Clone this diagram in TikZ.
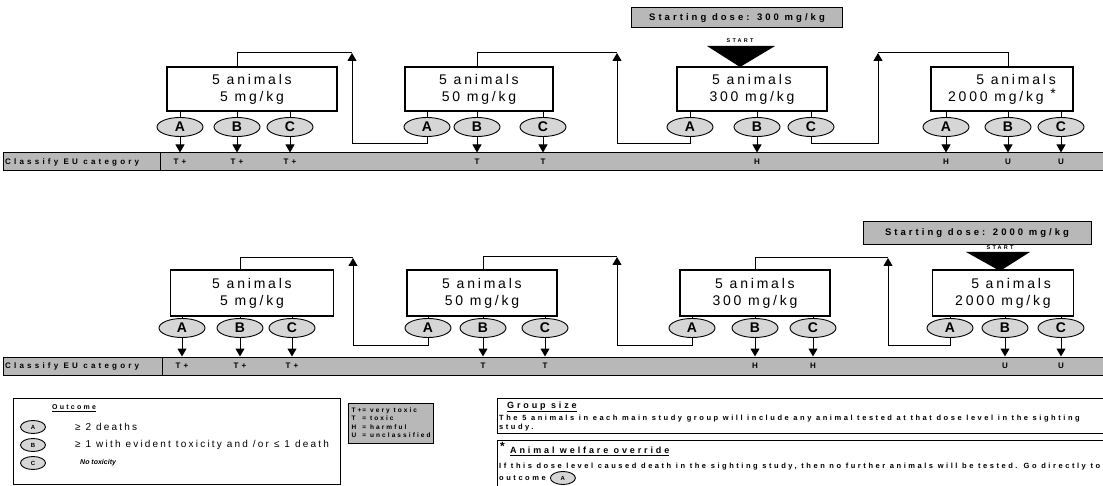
\documentclass[tikz,border=0pt]{standalone}
\usepackage{fontspec}
\setmainfont{Liberation Sans}
\newfontfamily\boxfont[LetterSpace=20]{Liberation Sans}
\newfontfamily\widefont[LetterSpace=32]{Liberation Sans}
\newfontfamily\notefont[LetterSpace=34]{Liberation Sans}
\newfontfamily\barfont[LetterSpace=40]{Liberation Sans}
\newfontfamily\legfont[LetterSpace=22]{Liberation Sans}
\usetikzlibrary{arrows.meta, shapes.geometric, positioning}
\definecolor{dotgray}{gray}{0.72}
\definecolor{litegray}{gray}{0.84}

\begin{document}
\begin{tikzpicture}[x=1pt, y=-1pt,
		>={Triangle[length=8pt,width=9pt]},   % arrow tips
		dosebox/.style={draw, line width=1.2pt, minimum height=44pt, align=center, font=\boxfont\fontsize{14}{17}\selectfont},
		outc/.style={ellipse, draw, line width=0.9pt, fill=litegray, minimum width=46pt, minimum height=19pt, inner sep=0pt, font=\bfseries\fontsize{14}{14}\selectfont},
		outs/.style={outc, minimum width=25pt, minimum height=13pt, font=\bfseries\fontsize{6}{6}\selectfont},
		catbar/.style={draw, line width=1pt, fill=dotgray, minimum height=18pt, inner sep=0pt},
		cat/.style={font=\barfont\bfseries\fontsize{8}{8}\selectfont, inner sep=1pt},
		startbox/.style={draw, line width=1pt, fill=dotgray, inner sep=0pt, font=\widefont\bfseries\fontsize{9.5}{9.5}\selectfont},
		notebox/.style={draw, line width=1pt, anchor=north west, inner sep=0pt},
		note/.style={anchor=west, inner sep=0pt, align=left, font=\notefont\bfseries\fontsize{7.5}{9}\selectfont},
		link/.style={line width=1pt}]
	\useasboundingbox (0,0) rectangle (1103,486);
	% first run: start at 300 mg/kg
	\node[dosebox, minimum width=170pt] (t1) at (252,89) {5 animals\\ 5 mg/kg};
	\node[dosebox, minimum width=148pt] (t2) at (479,89) {5 animals\\50 mg/kg};
	\node[dosebox, minimum width=150pt] (t3) at (752,89) {5 animals\\300 mg/kg};
	\node[dosebox, minimum width=142pt, align=right] (t4) at (1002,89) {5 animals\\2000 mg/kg \raisebox{3pt}{*}};
	\foreach \i/\xa/\xb/\xc in {1/180/237/290, 2/427/477/543, 3/690/757/811, 4/946/1008/1061}{
		\node[outc] (tA\i) at (\xa,127) {A};
		\node[outc] (tB\i) at (\xb,127) {B};
		\node[outc] (tC\i) at (\xc,127) {C};
		\foreach \l in {A,B,C} \draw[link] (t\l\i |- t\i.south) -- (t\l\i.north);
	}
	\node[catbar, minimum width=1101pt, anchor=west] (tbar) at (3,162) {};
	\node[cat, anchor=west] (tcls) at (4,162) {Classify EU category};
	\coordinate (tdiv) at (160,162);
	\draw[link] (tdiv |- tbar.north) -- (tdiv |- tbar.south);
	\foreach \n/\c in {tA1/T+, tB1/T+, tC1/T+, tB2/T, tC2/T, tB3/H, tA4/H, tB4/U, tC4/U}{
		\draw[link,->] (\n.south) -- (\n |- tbar.north);
		\node[cat] (c\n) at (\n |- tbar) {\c};
	}
	% Rueckspruenge
	\coordinate (tk1) at (352,53);
	\coordinate (tk2) at (617,53);
	\coordinate (tk3) at (878,53);
	\draw[link,->] (tA2.south) -- ++(0,6.5) -| (tk1);
	\draw[link] (tk1) -| (tB1 |- t1.north);
	\draw[link,->] (tA3.south) -- ++(0,6.5) -| (tk2);
	\draw[link] (tk2) -| (tB2 |- t2.north);
	\draw[link,->] (tC3.south) -- ++(0,6.5) -| (tk3);
	\draw[link] (tk3) -| (tB4 |- t4.north);
	% Startdosis
	\node[startbox, minimum width=211pt, minimum height=20pt] (tdose) at (737,18) {Starting dose: 300 mg/kg};
	\node[cat, font=\barfont\bfseries\fontsize{5.5}{5.5}\selectfont] (tstart) at (740,41) {START};
	\fill (740,67) -- (707,46) -- (775,46) -- cycle;

	% second run: start at 2000 mg/kg
	\node[dosebox, minimum width=163pt, minimum height=46pt] (b1) at (252,293) {5 animals\\ 5 mg/kg};
	\node[dosebox, minimum width=150pt, minimum height=46pt] (b2) at (482,293) {5 animals\\50 mg/kg};
	\node[dosebox, minimum width=150pt, minimum height=46pt] (b3) at (755,293) {5 animals\\300 mg/kg};
	\node[dosebox, minimum width=141pt, minimum height=46pt, align=right] (b4) at (1003,293) {5 animals\\2000 mg/kg};
	\foreach \i/\xa/\xb/\xc in {1/182/240/292, 2/428/483/545, 3/692/755/813, 4/950/1005/1061}{
		\node[outc] (bA\i) at (\xa,328) {A};
		\node[outc] (bB\i) at (\xb,328) {B};
		\node[outc] (bC\i) at (\xc,328) {C};
		\foreach \l in {A,B,C} \draw[link] (b\l\i |- b\i.south) -- (b\l\i.north);
	}
	\node[catbar, minimum width=1101pt, anchor=west] (bbar) at (3,366) {};
	\node[cat, anchor=west] (bcls) at (4,366) {Classify EU category};
	\coordinate (bdiv) at (162,366);
	\draw[link] (bdiv |- bbar.north) -- (bdiv |- bbar.south);
	\foreach \n/\c in {bA1/T+, bB1/T+, bC1/T+, bB2/T, bC2/T, bB3/H, bC3/H, bB4/U, bC4/U}{
		\draw[link,->] (\n.south) -- (\n |- bbar.north);
		\node[cat] (c\n) at (\n |- bbar) {\c};
	}
	\coordinate (bk1) at (353,258);
	\coordinate (bk2) at (617,257);
	\coordinate (bk3) at (888,258);
	\draw[link,->] (bA2.south) -- ++(0,7.5) -| (bk1);
	\draw[link] (bk1) -| (bB1 |- b1.north);
	\draw[link,->] (bA3.south) -- ++(0,7.5) -| (bk2);
	\draw[link] (bk2) -| (bB2 |- b2.north);
	\draw[link,->] (bA4.south) -- ++(0,7.5) -| (bk3);
	\draw[link] (bk3) -| (bB3 |- b3.north);
	\node[startbox, minimum width=228pt, minimum height=23pt] (bdose) at (977,233) {Starting dose: 2000 mg/kg};
	\node[cat, font=\barfont\bfseries\fontsize{5.5}{5.5}\selectfont] (bstart) at (1000,248) {START};
	\fill (1000,271) -- (966,252) -- (1030,252) -- cycle;

	% Legende
	\node[notebox, minimum width=327pt, minimum height=86pt] (outbox) at (13,398) {};
	\node[note, font=\widefont\bfseries\fontsize{7}{7}\selectfont] (outtitle) at (52,408) {\underline{Outcome}};
	\node[outs] (oA) at (33,427) {A};
	\node[outs] (oB) at (33,445) {B};
	\node[outs] (oC) at (33,463) {C};
	\node[note, font=\legfont\fontsize{10}{10}\selectfont] (oAtext) at (75,427) {≥ 2 deaths};
	\node[note, font=\legfont\fontsize{10}{10}\selectfont] (oBtext) at (75,445) {≥ 1 with evident toxicity and /or ≤ 1 death};
	\node[note, font=\bfseries\itshape\fontsize{7}{7}\selectfont] (oCtext) at (80,463) {No toxicity};
	\node[notebox, fill=dotgray, inner sep=3pt, font=\widefont\bfseries\fontsize{6.5}{8.5}\selectfont] (clsbox) at (348,403)
		{\begin{tabular}{@{}l@{\,}l@{}}T+ & = very toxic\\ T & = toxic\\ H & = harmful\\ U & = unclassified\end{tabular}};
	\node[notebox, minimum width=607pt, minimum height=35pt] (grpbox) at (497,398) {};
	\node[note, font=\widefont\bfseries\fontsize{9}{9}\selectfont] (grptitle) at (507,407) {\underline{Group size}};
	\node[note, anchor=north west] (grptext) at (499,415) {The 5 animals in each main study group will include any animal tested at that dose level in the sighting\\study.};
	\node[notebox, minimum width=607pt, minimum height=47pt] (welbox) at (497,440) {};
	\node[note, font=\bfseries\fontsize{12}{12}\selectfont] (welstar) at (500,446) {*};
	\node[note, font=\widefont\bfseries\fontsize{9}{9}\selectfont] (weltitle) at (510,451) {\underline{Animal welfare override}};
	\node[note] (weltext) at (499,467) {If this dose level caused death in the sighting study, then no further animals will be tested. Go directly to};
	\node[note] (welout) at (499,478) {outcome};
	\node[outs, right=4pt of welout] (wA) {A};
\end{tikzpicture}
\end{document}
